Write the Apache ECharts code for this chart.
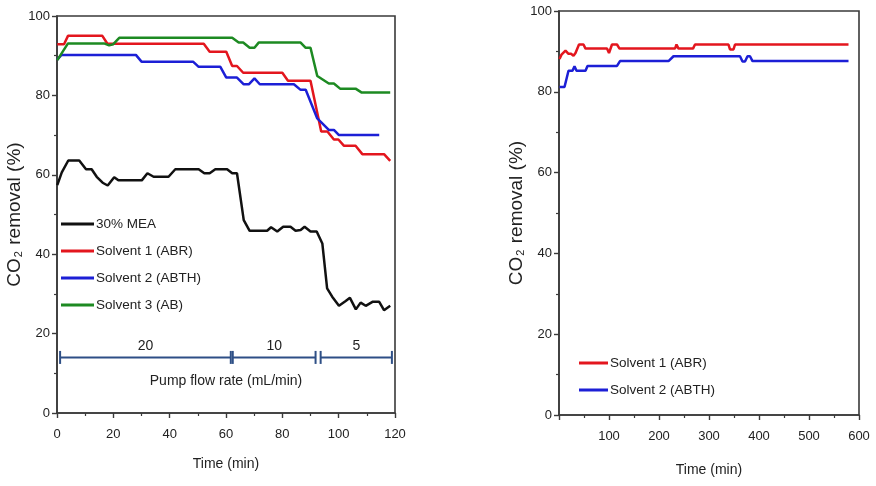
<!DOCTYPE html>
<html>
<head>
<meta charset="utf-8">
<script src="https://cdn.jsdelivr.net/npm/echarts@6/dist/echarts.min.js"></script>
<style>
  html, body { margin: 0; padding: 0; background: #fff; }
  #chart { width: 876px; height: 486px; }
</style>
</head>
<body>
<div id="chart"></div>
<script>
// ---- Left panel: CO2 removal at stepped pump flow rates ----
const timeMEA = [0.1, 1.7, 4.0, 7.9, 10.3, 12.3, 14.1, 16.2, 18.0, 20.3, 21.8, 30.1, 32.1, 34.3, 39.6, 42.0, 50.3, 52.3, 54.2, 56.2, 60.4, 62.2, 63.9, 66.3, 68.4, 74.6, 76.0, 78.2, 80.3, 82.9, 84.7, 86.5, 87.9, 90.0, 92.2, 94.2, 95.9, 97.7, 100.1, 102.5, 104.0, 106.1, 107.8, 109.6, 112.0, 114.4, 116.1, 118.3];
const mea     = [57.4, 60.6, 63.6, 63.6, 61.4, 61.4, 59.5, 58.0, 57.3, 59.4, 58.6, 58.6, 60.4, 59.5, 59.5, 61.4, 61.4, 60.4, 60.4, 61.4, 61.4, 60.4, 60.4, 48.6, 45.9, 45.9, 46.8, 45.7, 46.9, 46.9, 45.9, 46.1, 46.9, 45.7, 45.7, 42.7, 31.4, 29.3, 27.0, 28.2, 29.0, 26.1, 27.8, 27.0, 28.0, 28.0, 25.9, 27.0];

const timeABR = [0.1, 2.5, 3.9, 16.1, 17.9, 52.1, 54.2, 60.1, 62.2, 63.9, 66.1, 80.0, 82.0, 90.0, 93.8, 96.0, 98.3, 99.9, 101.9, 106.0, 108.4, 116.1, 118.3];
const abr     = [92.9, 92.9, 95.0, 95.0, 93.0, 93.0, 91.0, 91.0, 87.4, 87.4, 85.7, 85.7, 83.7, 83.7, 70.9, 70.9, 68.9, 68.9, 67.3, 67.3, 65.2, 65.2, 63.5];

const timeABTH = [0.1, 1.6, 28.0, 30.0, 48.3, 50.3, 58.0, 60.1, 63.9, 66.3, 68.1, 70.1, 72.0, 84.1, 86.5, 88.3, 92.4, 96.5, 98.3, 100.1, 114.4];
const abth     = [89.0, 90.2, 90.2, 88.5, 88.5, 87.2, 87.2, 84.5, 84.5, 82.8, 82.8, 84.3, 82.8, 82.8, 81.4, 81.4, 74.2, 71.3, 71.3, 70.0, 70.0];

const timeAB = [0.1, 3.9, 16.7, 18.5, 20.0, 22.1, 62.2, 64.5, 66.1, 68.4, 70.1, 71.6, 86.5, 88.3, 90.0, 92.4, 96.5, 98.3, 100.5, 106.0, 108.2, 118.3];
const ab     = [88.9, 93.1, 93.1, 92.6, 92.9, 94.5, 94.5, 93.3, 93.3, 92.0, 92.0, 93.3, 93.3, 92.0, 92.0, 84.9, 83.0, 83.0, 81.7, 81.7, 80.7, 80.7];

// pump flow rate periods: start, end and bar level
const flowStart  = [1.1, 62.4, 93.6];
const flowEnd    = [61.7, 91.8, 118.9];
const flowLevel  = 14;
const flowLabels = ['20', '10', '5'];
const flowCaption = 'Pump flow rate (mL/min)';

// ---- Right panel: long-run stability ----
const timeABRLong = [1, 5, 13, 19, 24, 29, 33, 40, 49, 53, 96, 100, 106, 116, 121, 232, 235, 239, 268, 272, 339, 342, 349, 352, 579];
const abrLong     = [88.1, 89.2, 90.2, 89.4, 89.4, 88.9, 89.6, 91.7, 91.7, 90.7, 90.7, 89.6, 91.7, 91.7, 90.7, 90.7, 91.7, 90.7, 90.7, 91.7, 91.7, 90.5, 90.5, 91.7, 91.7];

const timeABTHLong = [1, 11, 19, 27, 31, 35, 53, 57, 116, 122, 219, 229, 362, 367, 372, 377, 382, 387, 579];
const abthLong     = [81.2, 81.2, 85.2, 85.2, 86.3, 85.2, 85.2, 86.4, 86.4, 87.6, 87.6, 88.8, 88.8, 87.5, 87.5, 88.8, 88.8, 87.6, 87.6];

const zip = (xs, ys) => xs.map((x, i) => [x, ys[i]]);

const FONT = "'Liberation Sans', Arial, sans-serif";
const AXIS_COLOR = '#3a3a3a';
const FLOW_COLOR = '#2e4f86';
const C = { mea: '#111111', abr: '#e3161e', abth: '#1c1fd6', ab: '#1d8a22' };

function valueAxis(extra) {
  return Object.assign({
    type: 'value',
    axisLine: { show: true, lineStyle: { color: AXIS_COLOR, width: 1.6 } },
    axisTick: { show: true, inside: false, length: 5, lineStyle: { color: AXIS_COLOR, width: 1.4 } },
    minorTick: { show: true, splitNumber: 2, length: 3, lineStyle: { color: AXIS_COLOR, width: 1.2 } },
    splitLine: { show: false },
    minorSplitLine: { show: false },
    axisLabel: { color: '#222', fontFamily: FONT, fontSize: 13, margin: 7 },
    nameTextStyle: { color: '#222', fontFamily: FONT, fontSize: 14 }
  }, extra);
}

function xLabel(hideZero) {
  return { color: '#222', fontFamily: FONT, fontSize: 13, margin: 15,
           formatter: v => (hideZero && v === 0 ? '' : String(v)) };
}

const yTitle = {
  name: 'CO{sub|2} removal (%)',
  nameLocation: 'middle',
  nameRotate: 90,
  nameTextStyle: {
    color: '#222', fontFamily: FONT, fontSize: 19,
    rich: { sub: { fontSize: 11, verticalAlign: 'bottom', padding: [9, 1, 0, 1], fontFamily: FONT, color: '#222' } }
  }
};

function lineSeries(name, data, color, gridIdx) {
  return {
    type: 'line', name: name, data: data,
    xAxisIndex: gridIdx, yAxisIndex: gridIdx,
    symbol: 'none', smooth: false,
    lineStyle: { color: color, width: 2.5 },
    itemStyle: { color: color },
    z: 3
  };
}

const legendText = { color: '#222', fontFamily: FONT, fontSize: 13.5, lineHeight: 16, padding: [0, 0, 0, -3] };

const option = {
  animation: false,
  backgroundColor: '#fff',
  grid: [
    { left: 57, top: 16, right: 481, bottom: 73, show: true, borderColor: AXIS_COLOR, borderWidth: 1.6, backgroundColor: 'transparent' },
    { left: 559, top: 11, right: 17, bottom: 71, show: true, borderColor: AXIS_COLOR, borderWidth: 1.6, backgroundColor: 'transparent' }
  ],
  xAxis: [
    valueAxis({ gridIndex: 0, min: 0, max: 120, interval: 20, name: 'Time (min)', nameLocation: 'middle', nameGap: 44, axisLabel: xLabel(false) }),
    valueAxis({ gridIndex: 1, min: 0, max: 600, interval: 100, name: 'Time (min)', nameLocation: 'middle', nameGap: 48, axisLabel: xLabel(true) })
  ],
  yAxis: [
    valueAxis(Object.assign({ gridIndex: 0, min: 0, max: 100, interval: 20, nameGap: 31 }, yTitle)),
    valueAxis(Object.assign({ gridIndex: 1, min: 0, max: 100, interval: 20, nameGap: 25 }, yTitle))
  ],
  legend: [
    {
      data: ['30% MEA', 'Solvent 1 (ABR)', 'Solvent 2 (ABTH)', 'Solvent 3 (AB)'],
      orient: 'vertical', left: 56, top: 211,
      icon: 'rect', itemWidth: 33, itemHeight: 3, itemGap: 11,
      textStyle: legendText, selectedMode: false
    },
    {
      data: ['Solvent 1 (ABR)', 'Solvent 2 (ABTH)'],
      orient: 'vertical', left: 574, top: 350,
      icon: 'rect', itemWidth: 29, itemHeight: 3, itemGap: 11,
      textStyle: legendText, selectedMode: false
    }
  ],
  series: [
    lineSeries('30% MEA', zip(timeMEA, mea), C.mea, 0),
    lineSeries('Solvent 1 (ABR)', zip(timeABR, abr), C.abr, 0),
    lineSeries('Solvent 2 (ABTH)', zip(timeABTH, abth), C.abth, 0),
    lineSeries('Solvent 3 (AB)', zip(timeAB, ab), C.ab, 0),
    // flow-rate period bars with end caps and labels
    {
      type: 'custom', xAxisIndex: 0, yAxisIndex: 0, silent: true, z: 4,
      data: flowStart.map((s, i) => [s, flowEnd[i], flowLevel]),
      renderItem: function (params, api) {
        const p0 = api.coord([api.value(0), api.value(2)]);
        const p1 = api.coord([api.value(1), api.value(2)]);
        const st = { stroke: FLOW_COLOR, lineWidth: 2 };
        const cap = 6.5;
        return {
          type: 'group',
          children: [
            { type: 'line', shape: { x1: p0[0], y1: p0[1], x2: p1[0], y2: p1[1] }, style: st },
            { type: 'line', shape: { x1: p0[0], y1: p0[1] - cap, x2: p0[0], y2: p0[1] + cap }, style: st },
            { type: 'line', shape: { x1: p1[0], y1: p1[1] - cap, x2: p1[0], y2: p1[1] + cap }, style: st },
            { type: 'text', style: {
                x: (p0[0] + p1[0]) / 2, y: p0[1] - 4,
                text: flowLabels[params.dataIndex], align: 'center', verticalAlign: 'bottom',
                fill: '#222', font: '14px ' + FONT } }
          ]
        };
      }
    },
    {
      type: 'custom', xAxisIndex: 0, yAxisIndex: 0, silent: true, z: 4,
      data: [[(flowStart[0] + flowEnd[flowEnd.length - 1]) / 2, flowLevel]],
      renderItem: function (params, api) {
        const p = api.coord([api.value(0), api.value(1)]);
        return { type: 'text', style: {
          x: p[0], y: p[1] + 24, text: flowCaption, align: 'center', verticalAlign: 'middle',
          fill: '#222', font: '14px ' + FONT } };
      }
    },
    lineSeries('Solvent 1 (ABR)', zip(timeABRLong, abrLong), C.abr, 1),
    lineSeries('Solvent 2 (ABTH)', zip(timeABTHLong, abthLong), C.abth, 1)
  ]
};

const chart = echarts.init(document.getElementById('chart'), null, { renderer: 'canvas' });
chart.setOption(option);
</script>
</body>
</html>
